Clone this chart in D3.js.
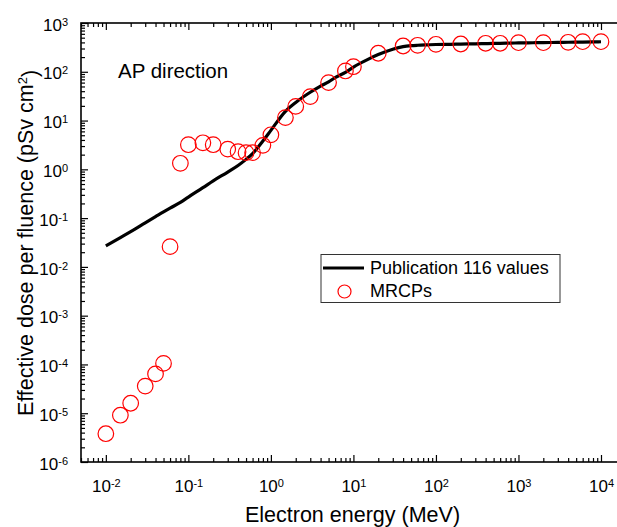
<!DOCTYPE html>
<html>
<head>
<meta charset="utf-8">
<script src="https://cdn.jsdelivr.net/npm/d3@7"></script>
<style>
  body { margin: 0; background: #fff; }
  svg text { font-family: Arial, 'Liberation Sans', sans-serif; fill: #000; }
</style>
</head>
<body>
<svg class="chart-svg" width="617" height="527"></svg>
<script>
// ICRP Publication 116 reference curve (energy in MeV, dose in pSv cm2)
const pubEnergy = [0.01, 0.015, 0.02, 0.03, 0.04, 0.05, 0.06, 0.08, 0.1, 0.15, 0.2, 0.3, 0.4, 0.5, 0.6, 0.8,
  1, 1.5, 2, 3, 4, 5, 6, 8, 10, 15, 20, 30, 40, 50, 60, 80, 100, 150, 200, 300, 400, 500, 600, 800,
  1000, 1500, 2000, 3000, 4000, 5000, 6000, 8000, 10000]
const pubDose = [0.027, 0.040, 0.053, 0.080, 0.107, 0.134, 0.16, 0.21, 0.27, 0.42, 0.58, 0.88, 1.2, 1.6, 2.1, 3.8,
  6.3, 15.5, 23.5, 38, 51, 62, 76, 97, 125, 180, 225, 290, 328, 343, 350, 357, 362, 366, 370, 374, 378, 381, 383, 387,
  390, 394, 397, 400, 403, 405, 407, 410, 413]

// MRCP computed values
const mrcpEnergy = [0.01, 0.015, 0.02, 0.03, 0.04, 0.05, 0.06, 0.08, 0.1, 0.15, 0.2, 0.3, 0.4, 0.5, 0.6, 0.8,
  1, 1.5, 2, 3, 5, 8, 10, 20, 40, 60, 100, 200, 400, 600, 1000, 2000, 4000, 6000, 10000]
const mrcpDose = [3.8e-6, 9.1e-6, 1.6e-5, 3.6e-5, 6.4e-5, 1.05e-4, 0.026, 1.33, 3.2, 3.5, 3.2, 2.6, 2.3, 2.2, 2.2, 3.1,
  5.1, 11.5, 19.5, 31, 60, 104, 127, 240, 338, 349, 366, 371, 384, 384, 395, 395, 402, 414, 414]

const xTicks = [1e-2, 1e-1, 1e0, 1e1, 1e2, 1e3, 1e4]
const yTicks = [1e-6, 1e-5, 1e-4, 1e-3, 1e-2, 1e-1, 1e0, 1e1, 1e2, 1e3]
const legendLabels = ['Publication 116 values', 'MRCPs']

const margin = { left: 81, right: 624, top: 23, bottom: 462 }
const svg = d3.select('.chart-svg')

const xScale = d3.scaleLog().domain([0.005, 19000]).range([margin.left, margin.right])
const yScale = d3.scaleLog().domain([1e-6, 1e3]).range([margin.bottom, margin.top])

// minor ticks: 2..9 times each decade
function minorTicks (scale) {
  const [lo, hi] = scale.domain()
  const out = []
  for (let e = Math.floor(Math.log10(lo)); e <= Math.ceil(Math.log10(hi)); e++) {
    for (let k = 2; k <= 9; k++) {
      const v = k * Math.pow(10, e)
      if (v >= lo && v <= hi) out.push(v)
    }
  }
  return out
}

function powerLabel (sel) {
  sel.each(function (d) {
    const t = d3.select(this)
    const exp = Math.round(Math.log10(d))
    t.text(null)
    t.append('tspan').text('10')
    t.append('tspan').attr('dy', '-0.45em').style('font-size', '11px').text(exp)
  })
}

// plot frame
svg.append('rect')
  .attr('x', margin.left)
  .attr('y', margin.top)
  .attr('width', margin.right - margin.left)
  .attr('height', margin.bottom - margin.top)
  .attr('fill', 'none')
  .attr('stroke', '#000')
  .attr('stroke-width', 1.6)

function drawAxis (axis, transform, labels) {
  const g = svg.append('g').attr('transform', transform).call(axis)
  g.select('.domain').remove()
  g.selectAll('line').attr('stroke', '#000').attr('stroke-width', 1.2)
  if (labels) {
    g.selectAll('text').style('font-size', '17px').call(powerLabel)
  } else {
    g.selectAll('text').remove()
  }
  return g
}

// bottom + top
drawAxis(d3.axisBottom(xScale).tickValues(xTicks).tickSize(-7).tickPadding(18), `translate(0,${margin.bottom})`, true)
drawAxis(d3.axisBottom(xScale).tickValues(minorTicks(xScale)).tickSize(-4), `translate(0,${margin.bottom})`, false)
drawAxis(d3.axisTop(xScale).tickValues(xTicks).tickSize(-7), `translate(0,${margin.top})`, false)
drawAxis(d3.axisTop(xScale).tickValues(minorTicks(xScale)).tickSize(-4), `translate(0,${margin.top})`, false)
// left + right
const yLeft = drawAxis(d3.axisLeft(yScale).tickValues(yTicks).tickSize(-7).tickPadding(13), `translate(${margin.left},0)`, true)
yLeft.selectAll('text').attr('dy', '0.42em')
drawAxis(d3.axisLeft(yScale).tickValues(minorTicks(yScale)).tickSize(-4), `translate(${margin.left},0)`, false)
drawAxis(d3.axisRight(yScale).tickValues(yTicks).tickSize(-7), `translate(${margin.right},0)`, false)
drawAxis(d3.axisRight(yScale).tickValues(minorTicks(yScale)).tickSize(-4), `translate(${margin.right},0)`, false)

// Publication 116 curve
const pubData = pubEnergy.map((e, i) => ({ e, d: pubDose[i] }))
const line = d3.line()
  .x(p => xScale(p.e))
  .y(p => yScale(p.d))
  .curve(d3.curveMonotoneX)
svg.append('path')
  .datum(pubData)
  .attr('d', line)
  .attr('fill', 'none')
  .attr('stroke', '#000')
  .attr('stroke-width', 3.2)

// MRCP markers
const mrcpData = mrcpEnergy.map((e, i) => ({ e, d: mrcpDose[i] }))
svg.append('g')
  .selectAll('circle')
  .data(mrcpData)
  .join('circle')
  .attr('cx', p => xScale(p.e))
  .attr('cy', p => yScale(p.d))
  .attr('r', 7.8)
  .attr('fill', 'none')
  .attr('stroke', '#ff0000')
  .attr('stroke-width', 1.2)

// annotation
svg.append('text')
  .attr('x', 118)
  .attr('y', 78)
  .style('font-size', '20.5px')
  .text('AP direction')

// legend
const legend = svg.append('g').attr('transform', 'translate(321,254.5)')
legend.append('rect')
  .attr('width', 239)
  .attr('height', 48)
  .attr('fill', '#fff')
  .attr('stroke', '#333')
  .attr('stroke-width', 1)
legend.append('line')
  .attr('x1', 2).attr('x2', 43)
  .attr('y1', 13.5).attr('y2', 13.5)
  .attr('stroke', '#000')
  .attr('stroke-width', 3.2)
legend.append('circle')
  .attr('cx', 23.5).attr('cy', 37)
  .attr('r', 6.5)
  .attr('fill', 'none')
  .attr('stroke', '#ff0000')
  .attr('stroke-width', 1.2)
legend.selectAll('text.legend-label')
  .data(legendLabels)
  .join('text')
  .attr('class', 'legend-label')
  .attr('x', 49)
  .attr('y', (d, i) => 19 + i * 23.5)
  .style('font-size', '18px')
  .text(d => d)

// axis titles
svg.append('text')
  .attr('x', (margin.left + 624) / 2)
  .attr('y', 522)
  .attr('text-anchor', 'middle')
  .style('font-size', '21.5px')
  .text('Electron energy (MeV)')

const yTitle = svg.append('text')
  .attr('transform', 'translate(33,243) rotate(-90)')
  .attr('text-anchor', 'middle')
  .style('font-size', '21.5px')
yTitle.append('tspan').text('Effective dose per fluence (pSv cm')
yTitle.append('tspan').attr('dy', '-0.5em').style('font-size', '13px').text('2')
yTitle.append('tspan').attr('dy', '0.5em').text(')')
</script>
</body>
</html>
